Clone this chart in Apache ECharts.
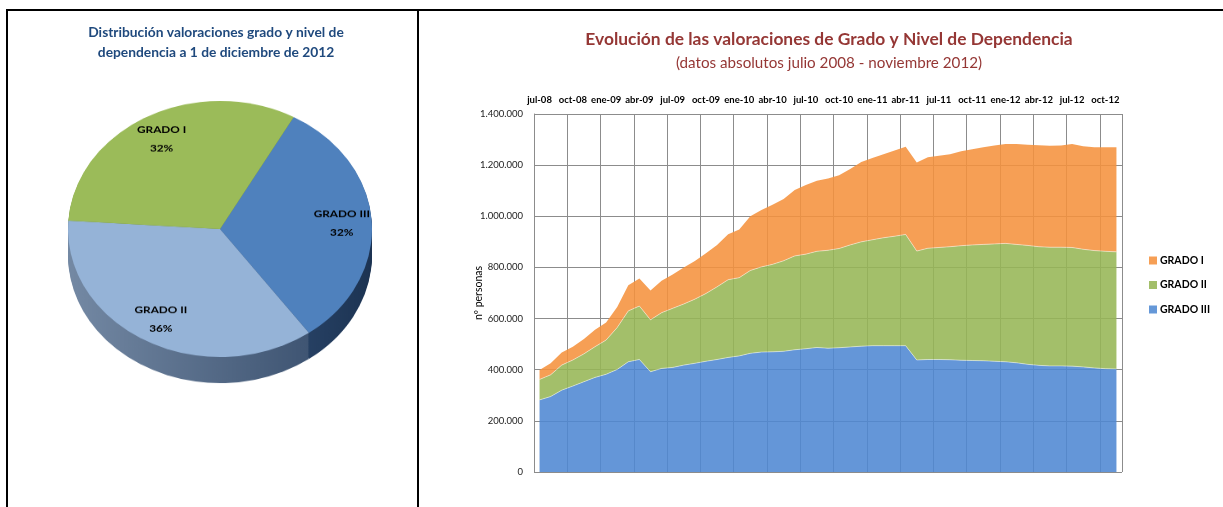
<!DOCTYPE html>
<html>
<head>
<meta charset="utf-8">
<script src="https://cdn.jsdelivr.net/npm/echarts@6/dist/echarts.min.js"></script>
<style>
  html, body { margin: 0; padding: 0; background: #fff; }
  #wrap { position: relative; width: 1223px; height: 507px; overflow: hidden; }
  #main { position: absolute; left: 0; top: 0; width: 1223px; height: 507px; }
  /* the pie is drawn round and squashed to look like the tilted 3D pie */
  #pie { position: absolute; left: 0; top: 0; width: 418px; height: 507px;
         transform: scaleY(0.842); transform-origin: 220px 229px; }
  .rule { position: absolute; background: #000; }
</style>
</head>
<body>
<div id="wrap">
  <div id="main"></div>
  <div id="pie"></div>
  <div class="rule" style="left:6px;top:9px;width:1217px;height:2px"></div>
  <div class="rule" style="left:6px;top:9px;width:2px;height:498px"></div>
  <div class="rule" style="left:417px;top:9px;width:2px;height:498px"></div>
</div>
<script>
// months jul-08 .. nov-12
const months = [
  "jul-08", "ago-08", "sep-08", "oct-08", "nov-08", "dic-08",
  "ene-09", "feb-09", "mar-09", "abr-09", "may-09", "jun-09", "jul-09", "ago-09", "sep-09", "oct-09", "nov-09", "dic-09",
  "ene-10", "feb-10", "mar-10", "abr-10", "may-10", "jun-10", "jul-10", "ago-10", "sep-10", "oct-10", "nov-10", "dic-10",
  "ene-11", "feb-11", "mar-11", "abr-11", "may-11", "jun-11", "jul-11", "ago-11", "sep-11", "oct-11", "nov-11", "dic-11",
  "ene-12", "feb-12", "mar-12", "abr-12", "may-12", "jun-12", "jul-12", "ago-12", "sep-12", "oct-12", "nov-12"
];

const grado3 = [
  282000, 295000, 320000, 336000, 353000, 370000, 382000, 401000, 431000, 440000,
  392000, 405000, 409000, 418000, 425000, 433000, 440000, 448000, 454000, 464000,
  469000, 470000, 472000, 478000, 482000, 487000, 484000, 486000, 489000, 492000,
  494000, 494000, 494000, 494000, 438000, 440000, 440000, 439000, 437000, 436000,
  435000, 433000, 431000, 427000, 421000, 417000, 415000, 415000, 414000, 411000,
  407000, 404000, 403000
];
const grado2 = [
  80000, 85000, 98000, 102000, 109000, 120000, 134000, 164000, 199000, 209000,
  203000, 218000, 231000, 239000, 251000, 265000, 284000, 304000, 306000, 324000,
  333000, 342000, 354000, 367000, 370000, 376000, 383000, 388000, 399000, 408000,
  414000, 422000, 428000, 435000, 426000, 435000, 438000, 442000, 448000, 452000,
  455000, 459000, 463000, 463000, 465000, 464000, 464000, 464000, 464000, 460000,
  459000, 459000, 458000
];
const grado1 = [
  37000, 45000, 49000, 52000, 58000, 66000, 69000, 80000, 100000, 108000,
  115000, 125000, 132000, 143000, 149000, 157000, 164000, 178000, 188000, 212000,
  223000, 233000, 242000, 258000, 270000, 276000, 281000, 286000, 297000, 312000,
  320000, 327000, 335000, 343000, 346000, 356000, 359000, 362000, 369000, 374000,
  380000, 385000, 389000, 393000, 394000, 397000, 397000, 398000, 405000, 403000,
  404000, 407000, 409000
];

// pie at 1 dic 2012 (percent)
const pieNames = ["GRADO III", "GRADO II", "GRADO I"];
const pieValues = [32, 36, 32];

const FONT = "Lato";
const fmtThousands = (v) => String(v).replace(/\B(?=(\d{3})+(?!\d))/g, ".");

// ---------- area chart + titles ----------
const main = echarts.init(document.getElementById("main"));

const areaSeries = (name, data, fill, legendColor, edge) => ({
  name: name,
  type: "line",
  stack: "total",
  data: data,
  symbol: "none",
  showSymbol: false,
  lineStyle: { width: edge ? 1 : 0, color: "rgba(255,255,255,0.45)" },
  itemStyle: { color: legendColor },
  areaStyle: { color: fill, opacity: 0.88 },
  emphasis: { disabled: true },
});

main.setOption({
  animation: false,
  textStyle: { fontFamily: FONT },
  graphic: [
    {
      type: "text", x: 216, y: 43,
      style: {
        text: "Distribución valoraciones grado y nivel de\ndependencia a 1 de diciembre de 2012",
        textAlign: "center", textVerticalAlign: "middle",
        fontFamily: FONT, fontWeight: "bold", fontSize: 13.8, lineHeight: 20, fill: "#1F497D",
      },
    },
    {
      type: "text", x: 829, y: 39,
      style: {
        text: "Evolución de las valoraciones de Grado y Nivel de Dependencia",
        textAlign: "center", textVerticalAlign: "middle",
        fontFamily: FONT, fontWeight: "bold", fontSize: 17.4, fill: "#953735",
      },
    },
    {
      type: "text", x: 829, y: 63,
      style: {
        text: "(datos absolutos julio 2008 - noviembre 2012)",
        textAlign: "center", textVerticalAlign: "middle",
        fontFamily: FONT, fontSize: 15.2, fill: "#953735",
      },
    },
  ],
  legend: {
    data: ["GRADO I", "GRADO II", "GRADO III"],
    orient: "vertical",
    left: 1149,
    top: 255,
    padding: 0,
    itemWidth: 8,
    itemHeight: 8,
    itemGap: 13.5,
    icon: "rect",
    textStyle: { fontFamily: FONT, fontWeight: "bold", fontSize: 10.5, color: "#000", padding: [0, 0, 0, -2] },
  },
  grid: { left: 534, right: 101, top: 114, bottom: 35, containLabel: false },
  xAxis: {
    type: "category",
    position: "top",
    boundaryGap: true,
    data: months,
    axisLine: { show: false },
    axisTick: { show: false, interval: 2 },
    axisLabel: { interval: 2, fontWeight: "bold", fontSize: 9.5, color: "#000", margin: 9 },
    splitLine: { show: true, interval: 2, lineStyle: { color: "#8c8c8c", width: 1 } },
  },
  yAxis: {
    type: "value",
    min: 0,
    max: 1400000,
    interval: 200000,
    name: "nº personas",
    nameLocation: "middle",
    nameRotate: 90,
    nameGap: 50,
    nameMoveOverlap: false,
    nameTextStyle: { fontFamily: FONT, fontSize: 10.5, color: "#000" },
    axisLine: { show: true, lineStyle: { color: "#8c8c8c" } },
    axisTick: { show: false },
    axisLabel: { formatter: fmtThousands, fontSize: 9.5, color: "#222", margin: 11 },
    splitLine: { show: true, lineStyle: { color: "#8c8c8c", width: 1 } },
  },
  series: [
    areaSeries("GRADO III", grado3, "#4F87D3", "#6598D8", true),
    areaSeries("GRADO II", grado2, "#96B655", "#A3BF6A", true),
    areaSeries("GRADO I", grado1, "#F5923E", "#F69F55", false),
  ],
});

// ---------- 3D-looking pie ----------
const pie = echarts.init(document.getElementById("pie"));

const topColors = ["#4F81BD", "#95B3D7", "#9BBB59"];
const sideColors = [
  new echarts.graphic.LinearGradient(0, 0, 1, 0, [
    { offset: 0, color: "#34527A" }, { offset: 1, color: "#1C3352" },
  ]),
  new echarts.graphic.LinearGradient(0, 0, 1, 0, [
    { offset: 0, color: "#7489A4" }, { offset: 1, color: "#3F5573" },
  ]),
  "#6E8A3C",
];

const PIE_C = [220, 229];
const PIE_R = 152;
const DEPTH = 31;

const pieSeries = [];
for (let off = DEPTH; off >= 1; off -= 2) {
  pieSeries.push({
    type: "pie",
    silent: true,
    center: [PIE_C[0], PIE_C[1] + off],
    radius: PIE_R,
    startAngle: 61,
    z: 1,
    label: { show: false },
    labelLine: { show: false },
    data: pieNames.map((n, i) => ({ name: n, value: pieValues[i], itemStyle: { color: sideColors[i] } })),
  });
}
pieSeries.push({
  type: "pie",
  silent: true,
  center: PIE_C,
  radius: PIE_R,
  startAngle: 61,
  z: 2,
  label: { show: false },
  labelLine: { show: false },
  data: pieNames.map((n, i) => ({ name: n, value: pieValues[i], itemStyle: { color: topColors[i] } })),
});
// transparent ring only to place the labels further out
pieSeries.push({
  type: "pie",
  silent: true,
  center: PIE_C,
  radius: [86, PIE_R],
  startAngle: 61,
  z: 3,
  percentPrecision: 0,
  itemStyle: { color: "rgba(0,0,0,0)" },
  label: {
    show: true,
    position: "inside",
    formatter: "{b}\n{d}%",
    fontFamily: FONT,
    fontWeight: "bold",
    fontSize: 11.8,
    lineHeight: 22,
    color: "#000",
  },
  labelLine: { show: false },
  data: pieNames.map((n, i) => ({ name: n, value: pieValues[i] })),
});

pie.setOption({ animation: false, series: pieSeries });
</script>
</body>
</html>
